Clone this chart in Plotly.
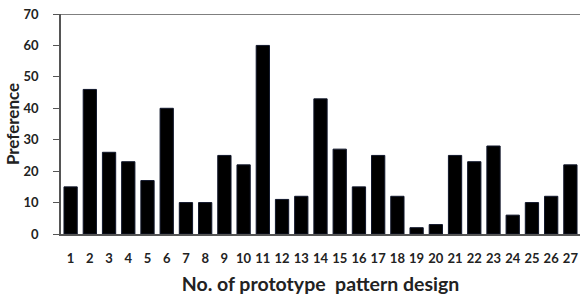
import plotly.graph_objects as go

categories = [str(i) for i in range(1, 28)]
preference = [15, 46, 26, 23, 17, 40, 10, 10, 25, 22, 60, 11, 12, 43, 27, 15, 25, 12, 2, 3, 25, 23, 28, 6, 10, 12, 22]
y_ticks = [0, 10, 20, 30, 40, 50, 60, 70]

fig = go.Figure(go.Bar(x=categories, y=preference, marker=dict(color="black", line=dict(color="#10162a", width=1))))

fig.update_layout(
    width=580, height=295,
    margin=dict(l=61, r=0, t=14, b=61, autoexpand=False),
    paper_bgcolor="white", plot_bgcolor="white",
    bargap=0.31,
    showlegend=False,
    font=dict(family="Lato, Open Sans, sans-serif", color="#222"),
)
fig.update_xaxes(
    type="category", showline=True, linecolor="#555", linewidth=1.5, automargin=False,
    ticks="", ticklabelstandoff=12, tickfont=dict(size=13, family="Lato", weight="bold"),
    title=dict(text="No. of prototype\u00a0 pattern design", font=dict(size=19.5, family="Lato", weight="bold"), standoff=12),
    showgrid=False,
)
fig.update_yaxes(
    range=[0, 70], tickvals=y_ticks, showline=True, linecolor="#555", linewidth=1.5, automargin=False,
    ticks="outside", ticklen=6, tickcolor="#555", ticklabelstandoff=12,
    tickfont=dict(size=13, family="Lato", weight="bold"),
    title=dict(text="Preference", font=dict(size=17, family="Lato", weight="bold"), standoff=0),
    showgrid=False, zeroline=False,
)
fig.add_shape(type="line", xref="paper", yref="y", x0=0, x1=1, y0=70, y1=70, line=dict(color="#555", width=1.5))

fig.write_html("out.html", config={"displayModeBar": False},
               post_script="document.body.style.margin='0';document.body.style.overflow='hidden';")
